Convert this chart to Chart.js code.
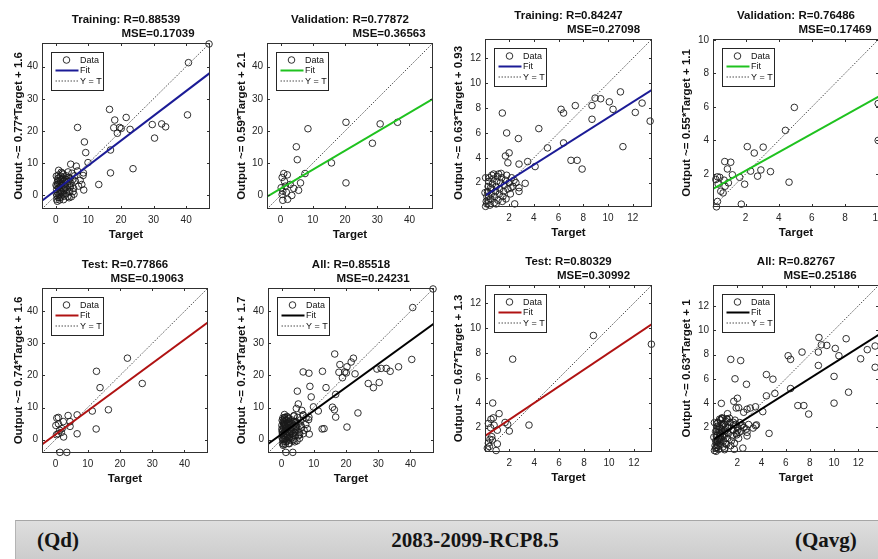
<!DOCTYPE html>
<html>
<head>
<meta charset="utf-8">
<script src="https://cdn.jsdelivr.net/npm/chart.js@4.4.1/dist/chart.umd.min.js"></script>
<style>
  html, body { margin: 0; padding: 0; background: #fff; }
  body { width: 878px; height: 559px; overflow: hidden; position: relative; }
  .panel { position: absolute; }
  .banner {
    position: absolute; left: 15px; top: 520px; width: 880px; height: 45px;
    background: linear-gradient(to bottom, #dedede, #c9c9c9);
    border-top: 1px solid #a6a6a6; border-left: 1px solid #b4b4b4;
    font-family: "Liberation Serif", "Times New Roman", serif;
    font-weight: bold; font-size: 21px; line-height: 24px; color: #141414;
  }
  .banner span { position: absolute; top: 7px; white-space: nowrap; }
</style>
</head>
<body>
<div class="banner">
  <span style="left:21px">(Qd)</span>
  <span style="left:459px; transform:translateX(-50%)">2083-2099-RCP8.5</span>
  <span style="left:779px">(Qavg)</span>
</div>
<script>
// panel names and statistics (row 1: Qd train, Qd val, Qavg train, Qavg val; row 2: Qd test, Qd all, Qavg test, Qavg all)
const panelNames = ['Training', 'Validation', 'Training', 'Validation', 'Test', 'All', 'Test', 'All'];
const rValues = [0.88539, 0.77872, 0.84247, 0.76486, 0.77866, 0.85518, 0.80329, 0.82767];
const mseValues = [0.17039, 0.36563, 0.27098, 0.17469, 0.19063, 0.24231, 0.30992, 0.25186];
const fitSlopes = [0.77, 0.59, 0.63, 0.55, 0.74, 0.73, 0.67, 0.63];
const fitIntercepts = [1.6, 2.1, 0.93, 1.1, 1.6, 1.7, 1.3, 1];

// tick labels
const qdTicks = [0, 10, 20, 30, 40];
const qavgTicks = [2, 4, 6, 8, 10, 12];
const qavgValTicks = [2, 4, 6, 8, 10];

// Qd
const qdTrainTarget = [0.2,0.3,0.4,0.5,0.6,0.8,0.9,0.3,0.5,0.7, 1.0,1.1,1.2,1.3,1.4,1.5,1.2,1.6,1.8,1.9,
  2.0,2.1,2.2,2.3,2.5,2.6,2.8,2.9,3.0,3.2, 3.3,3.5,3.6,3.8,4.0,4.1,4.3,4.5,4.7,4.8,
  5.0,5.2,5.5,5.8,6.0,6.3,6.7,7.0,7.5,8.0, 8.4,8.5,8.6,4.6,3.8,0.1,0.6,2.4,1.7,5.6,
  0.4,0.9,1.4,1.0,2.7,3.1,0.7,1.6,2.2,3.4, 0.2,1.3,2.0,4.2,5.3,3.7,0.8,2.6,1.9,4.4,
  6.7,8.8,9.2,9.9,13.2,16.5,16.8,16.8,17.8,18.1, 18.9,19.6,20.1,21.6,22.8,23.7,29.6,30.3,32.5,33.7,
  40.4,40.7,47.0];
const qdTrainOutput = [0.5,1.8,2.9,4.1,5.2,6.3,7.8,-1.2,-1.8,-0.6, 0.3,1.4,2.5,3.6,4.8,6.0,-1.4,-0.5,0.9,2.0,
  3.1,4.3,5.4,6.6,1.5,-0.2,2.7,3.9,5.0,6.1, 0.6,1.9,3.2,4.4,5.6,-0.7,1.2,2.6,3.8,-0.4,
  6.9,4.9,2.2,6.1,4.5,9.1,7.6,2.9,4.7,3.4, 6.2,7.0,1.7,9.7,7.3,3.2,0.9,-1.3,7.2,0.4,
  0.0,2.2,1.0,5.5,4.6,2.3,3.5,3.0,0.4,4.9, 6.0,-0.6,6.9,3.0,1.2,-0.3,4.6,2.0,5.0,5.3,
  21.1,16.6,13.3,10.2,3.4,26.7,14.1,7.0,21.0,23.4, 19.3,21.1,20.8,24.2,20.5,8.3,22.0,17.8,22.2,21.3,
  25.0,41.2,47.0];
const qdValTarget = [36.3,30.9,28.5,20.3,20.3,15.8,8.5,4.9,5.2,7.6, 6.2,5.6,3.5,4.1,3.0,0.5,1.0,2.1,0.2,0.7,
  1.5,0.7,2.2,0.5,1.2,1.8];
const qdValOutput = [22.7,22.2,16.2,22.7,3.9,10.1,20.7,15.1,11.1,6.8, 3.9,1.6,0.0,2.2,3.4,5.6,6.8,6.4,2.4,1.3,
  2.9,-1.5,-1.2,0.3,4.4,1.0];
const qdTestTarget = [22.3,12.7,13.8,26.9,16.4,11.4,12.6,6.7,6.7,3.9, 4.5,4.5,1.35,3.5,0.4,0.9,0.1,0.8,0.3,2.0,
  2.4,2.5,1.3,0.9,1.8];
const qdTestOutput = [25.4,21.3,16.2,17.5,9.3,8.9,3.3,1.8,7.7,7.5, 5.6,4.1,-4.0,-4.0,6.7,6.9,4.4,1.8,1.5,3.4,
  5.6,0.8,2.9,4.9,2.2];

// Qavg
const qavgTrainTarget = [13.4,12.75,12.2,11.0,11.2,10.4,10.1,9.4,8.95,8.7, 8.7,7.35,6.2,6.4,6.4,7.5,7.0,7.9,5.1,4.4,
  4.1,3.5,2.8,2.75,1.8,1.45,2.0,1.7,1.9,3.3, 2.8,2.8,2.45,
  0.1,0.15,0.2,0.25,0.3,0.35,0.4,0.2,0.45,0.5, 0.55,0.6,0.65,0.7,0.3,0.8,0.85,0.9,0.95,1.0,
  1.05,1.1,1.2,1.25,1.3,1.4,1.5,1.55,1.6,1.7, 1.8,1.9,2.0,2.1,2.2,2.3,1.35,0.75,0.1,0.05,
  1.75,2.4,2.55,0.5,1.15,0.35,1.45,2.15,0.6,0.95];
const qavgTrainOutput = [6.95,8.4,7.65,9.3,4.9,7.9,8.5,8.75,8.8,8.2, 7.1,8.2,7.9,7.6,5.2,3.8,3.8,3.1,4.8,6.35,
  3.3,3.7,3.5,5.55,6.0,7.6,4.4,4.15,3.6,1.95, 1.6,1.3,0.3,
  0.1,0.5,0.9,1.3,1.7,2.1,2.4,0.3,0.2,0.7, 1.1,1.5,1.9,2.3,0.6,0.4,0.9,1.3,1.7,2.1,
  2.5,0.6,1.1,1.5,2.0,2.4,0.9,1.3,1.8,2.2, 2.6,1.5,2.0,1.1,2.4,1.7,2.75,2.7,2.4,1.2,
  0.7,2.2,2.0,1.6,2.7,0.9,0.5,1.6,2.6,0.3];
const qavgValTarget = [4.94,4.4,2.1,2.52,3.06,0.74,1.1,0.9,1.2,0.3, 0.44,0.2,0.7,0.34,0.76,0.96,0.5,0.64,1.64,1.94,
  2.3,2.72,2.92,3.5,4.62,1.74,0.3,0.24,10.0,10.0];
const qavgValOutput = [5.97,4.6,3.63,3.25,3.6,2.74,2.7,2.3,1.95,1.83, 1.8,1.67,1.63,1.4,1.27,1.47,0.97,0.87,1.8,1.39,
  2.17,1.87,2.24,2.14,1.51,0.2,0.36,0.04,6.2,4.0];
const qavgTestTarget = [13.4,8.75,2.27,0.67,3.58,1.18,1.66,1.87,2.0,0.53, 0.72,0.32,0.5,1.04,0.59,0.45,0.32,0.4,0.24,1.04,
  0.94,0.64,0.78];
const qavgTestOutput = [8.7,9.4,7.5,3.98,2.21,3.13,2.42,2.26,1.73,2.68, 2.79,2.34,2.0,1.8,1.28,1.07,0.76,0.49,0.36,0.7,
  0.17,1.02,2.2];

// plot boxes on the page, axis limits, and small text offsets
const panelBoxes = [
  {left: 42, top: 43, w: 168, h: 166}, {left: 267, top: 43, w: 166, h: 166},
  {left: 485, top: 39, w: 167, h: 168}, {left: 713, top: 39, w: 166, h: 168},
  {left: 42, top: 288, w: 166, h: 165}, {left: 268, top: 288, w: 166, h: 165},
  {left: 485, top: 285, w: 167, h: 167}, {left: 713, top: 285, w: 166, h: 167}
];
const axisLimits = [[-4.2, 47.3], [-4.2, 47.3], [0.05, 13.55], [0.03, 10.05],
                    [-4.2, 47.3], [-4.2, 47.3], [0.05, 13.45], [-0.02, 13.72]];
const mseShift = [32, 39, 35, 39, 22, 22, 25, 24];
const yTitleGap = [23.5, 25, 26.5, 26.5, 23.5, 26, 26, 26];

const FONT = '"Liberation Sans", Arial, sans-serif';
const fitColors = {Training: '#1b1b96', Validation: '#1fc21f', Test: '#b01212', All: '#000000'};
const PAD_L = 42, PAD_T = 44, PAD_R = 10, PAD_B = 42;

Chart.defaults.font.family = FONT;
Chart.defaults.color = '#262626';

// box, inward ticks, two-line title and legend
const panelFrame = {
  id: 'panelFrame',
  afterDraw(chart, args, opts) {
    const {ctx, chartArea: a, scales} = chart;
    ctx.save();
    ctx.strokeStyle = '#303030';
    ctx.lineWidth = 1;
    ctx.setLineDash([]);
    ctx.strokeRect(a.left + 0.5, a.top + 0.5, a.right - a.left - 1, a.bottom - a.top - 1);
    ctx.beginPath();
    scales.x.ticks.forEach(t => {
      const px = Math.round(scales.x.getPixelForValue(t.value)) + 0.5;
      ctx.moveTo(px, a.bottom); ctx.lineTo(px, a.bottom - 3);
      ctx.moveTo(px, a.top); ctx.lineTo(px, a.top + 3);
    });
    scales.y.ticks.forEach(t => {
      const py = Math.round(scales.y.getPixelForValue(t.value)) + 0.5;
      ctx.moveTo(a.left, py); ctx.lineTo(a.left + 3, py);
      ctx.moveTo(a.right, py); ctx.lineTo(a.right - 3, py);
    });
    ctx.stroke();

    const cx = (a.left + a.right) / 2;
    ctx.fillStyle = '#111';
    ctx.font = 'bold 11.5px ' + FONT;
    ctx.textAlign = 'center';
    ctx.textBaseline = 'middle';
    ctx.fillText(opts.lines[0], cx, a.top - 23.5);
    ctx.fillText(opts.lines[1], cx + opts.shift, a.top - 9.5);

    const ds = chart.data.datasets;
    const lx = a.left + 9.5, ly = a.top + 9.5, lw = 52, lh = 38;
    ctx.fillStyle = '#fff';
    ctx.fillRect(lx, ly, lw, lh);
    ctx.strokeStyle = '#262626';
    ctx.strokeRect(lx, ly, lw, lh);
    ctx.font = '9px ' + FONT;
    ctx.textAlign = 'left';
    ds.forEach((d, k) => {
      const ry = ly + 7.5 + k * 10.5;
      ctx.beginPath();
      if (k === 0) {
        ctx.strokeStyle = d.pointBorderColor;
        ctx.lineWidth = d.pointBorderWidth;
        ctx.setLineDash([]);
        ctx.arc(lx + 15, ry, d.pointRadius, 0, Math.PI * 2);
      } else {
        ctx.strokeStyle = d.borderColor;
        ctx.lineWidth = d.borderWidth;
        ctx.setLineDash(d.borderDash || []);
        ctx.moveTo(lx + 4, ry); ctx.lineTo(lx + 27, ry);
      }
      ctx.stroke();
      ctx.fillStyle = '#111';
      ctx.fillText(d.label, lx + 28.5, ry + 0.5);
    });
    ctx.restore();
  }
};

function drawPanel(i, target, output, tickValues) {
  const box = panelBoxes[i];
  const [lo, hi] = axisLimits[i];
  const name = panelNames[i];
  const m = fitSlopes[i], b = fitIntercepts[i];

  const canvas = document.createElement('canvas');
  canvas.className = 'panel';
  canvas.width = PAD_L + box.w + PAD_R;
  canvas.height = PAD_T + box.h + PAD_B;
  canvas.style.left = (box.left - PAD_L) + 'px';
  canvas.style.top = (box.top - PAD_T) + 'px';
  document.body.appendChild(canvas);

  const axis = (fit, extra) => Object.assign({
    type: 'linear', min: lo, max: hi,
    afterBuildTicks: s => { s.ticks = tickValues.map(v => ({value: v})); },
    afterFit: fit,
    grid: {display: false, drawTicks: false},
    border: {display: false},
    ticks: {font: {size: 10}, color: '#262626', autoSkip: false, maxRotation: 0}
  }, extra);

  new Chart(canvas, {
    type: 'scatter',
    data: {
      datasets: [
        {label: 'Data', data: target.map((t, k) => ({x: t, y: output[k]})), order: 2, clip: false,
         pointRadius: 3.3, pointBorderWidth: 0.9, pointBorderColor: '#1a1a1a',
         pointBackgroundColor: 'rgba(0,0,0,0)'},
        {label: 'Fit', data: [{x: lo, y: m * lo + b}, {x: hi, y: m * hi + b}], showLine: true, order: 0,
         borderColor: fitColors[name], borderWidth: 2, pointRadius: 0},
        {label: 'Y = T', data: [{x: lo, y: lo}, {x: hi, y: hi}], showLine: true, order: 1,
         borderColor: '#4d4d4d', borderWidth: 1, borderDash: [1.5, 1.5], pointRadius: 0}
      ]
    },
    options: {
      responsive: false,
      animation: false,
      devicePixelRatio: 1,
      events: [],
      layout: {padding: {left: 0, top: PAD_T, right: PAD_R, bottom: 0}},
      scales: {
        x: axis(s => { s.height = PAD_B; }, {
          position: 'bottom',
          ticks: {font: {size: 10}, color: '#262626', autoSkip: false, maxRotation: 0, padding: 5},
          title: {display: true, text: 'Target', color: '#111',
                  font: {size: 11.5, weight: 'bold'}, padding: {top: 0, bottom: 9}}
        }),
        y: axis(s => { s.width = PAD_L; }, {
          position: 'left',
          ticks: {font: {size: 10}, color: '#262626', autoSkip: false, padding: 4},
          title: {display: true, text: 'Output ~= ' + m + '*Target + ' + b, color: '#111',
                  font: {size: 11.5, weight: 'bold'},
                  padding: {top: PAD_L - yTitleGap[i] - 6.9, bottom: 0}}
        })
      },
      plugins: {
        legend: {display: false},
        tooltip: {enabled: false},
        panelFrame: {
          lines: [name + ': R=' + rValues[i].toFixed(5), 'MSE=' + mseValues[i].toFixed(5)],
          shift: mseShift[i]
        }
      }
    },
    plugins: [panelFrame]
  });
}

drawPanel(0, qdTrainTarget, qdTrainOutput, qdTicks);
drawPanel(1, qdValTarget, qdValOutput, qdTicks);
drawPanel(2, qavgTrainTarget, qavgTrainOutput, qavgTicks);
drawPanel(3, qavgValTarget, qavgValOutput, qavgValTicks);
drawPanel(4, qdTestTarget, qdTestOutput, qdTicks);
drawPanel(5, qdTrainTarget.concat(qdValTarget, qdTestTarget),
             qdTrainOutput.concat(qdValOutput, qdTestOutput), qdTicks);
drawPanel(6, qavgTestTarget, qavgTestOutput, qavgTicks);
drawPanel(7, qavgTrainTarget.concat(qavgValTarget, qavgTestTarget),
             qavgTrainOutput.concat(qavgValOutput, qavgTestOutput), qavgTicks);
</script>
</body>
</html>
